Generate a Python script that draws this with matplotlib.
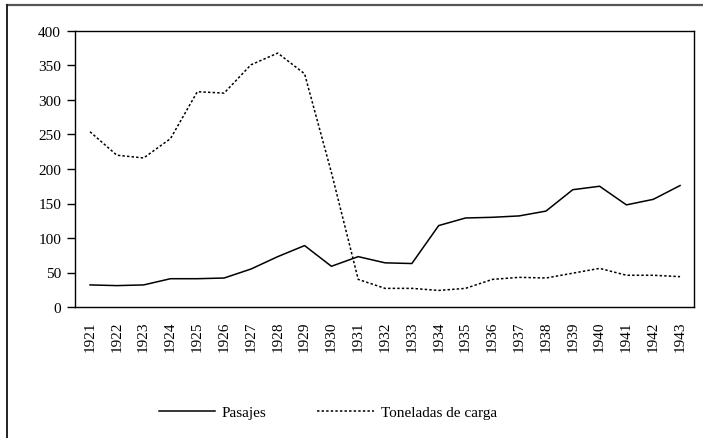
import matplotlib.pyplot as plt
from matplotlib.lines import Line2D

# Datos
anios = list(range(1921, 1944))
pasajes = [32, 31, 32, 41, 41, 42, 55, 73, 89, 59, 73, 64, 63, 118, 129, 130, 132, 139, 170, 175, 148, 156, 176]
toneladas = [254, 220, 216, 244, 312, 310, 351, 368, 338, 195, 40, 27, 27, 24, 27, 40, 43, 42, 49, 56, 46, 46, 44]

plt.rcParams['font.family'] = ['Liberation Serif', 'DejaVu Serif']

fig = plt.figure(figsize=(7.03, 4.39), dpi=100)
ax = fig.add_axes([75 / 703, 1 - 308 / 439, (694 - 75) / 703, (308 - 32) / 439])

ax.plot(anios, pasajes, color='black', lw=1.1, label='Pasajes')
ax.plot(anios, toneladas, color='black', lw=1.1, dashes=(1.6, 1.4), label='Toneladas de carga')

ax.set_ylim(0, 400)
ax.set_yticks(range(0, 401, 50))
ax.set_xlim(1920.44, 1943.52)
ax.set_xticks(anios)
ax.set_xticklabels([str(a) for a in anios], rotation=90)
ax.tick_params(axis='x', length=0, pad=10, labelsize=11)
ax.tick_params(axis='y', length=6, width=1, pad=4, labelsize=11)
for s in ax.spines.values():
    s.set_linewidth(1.0)

fig.legend(loc='center', bbox_to_anchor=(0.466, 1 - 413 / 439), ncol=2, frameon=False,
           fontsize=11, handlelength=3.7, columnspacing=3.3, handletextpad=0.45)

# marco exterior (solo arriba e izquierda)
fig.add_artist(Line2D([7 / 703, 1], [1 - 6 / 439, 1 - 6 / 439], transform=fig.transFigure,
                      color='#555555', lw=1.6))
fig.add_artist(Line2D([7 / 703, 7 / 703], [0, 1 - 6 / 439], transform=fig.transFigure,
                      color='#222222', lw=1.4))

fig.savefig('out.png', dpi=100)
